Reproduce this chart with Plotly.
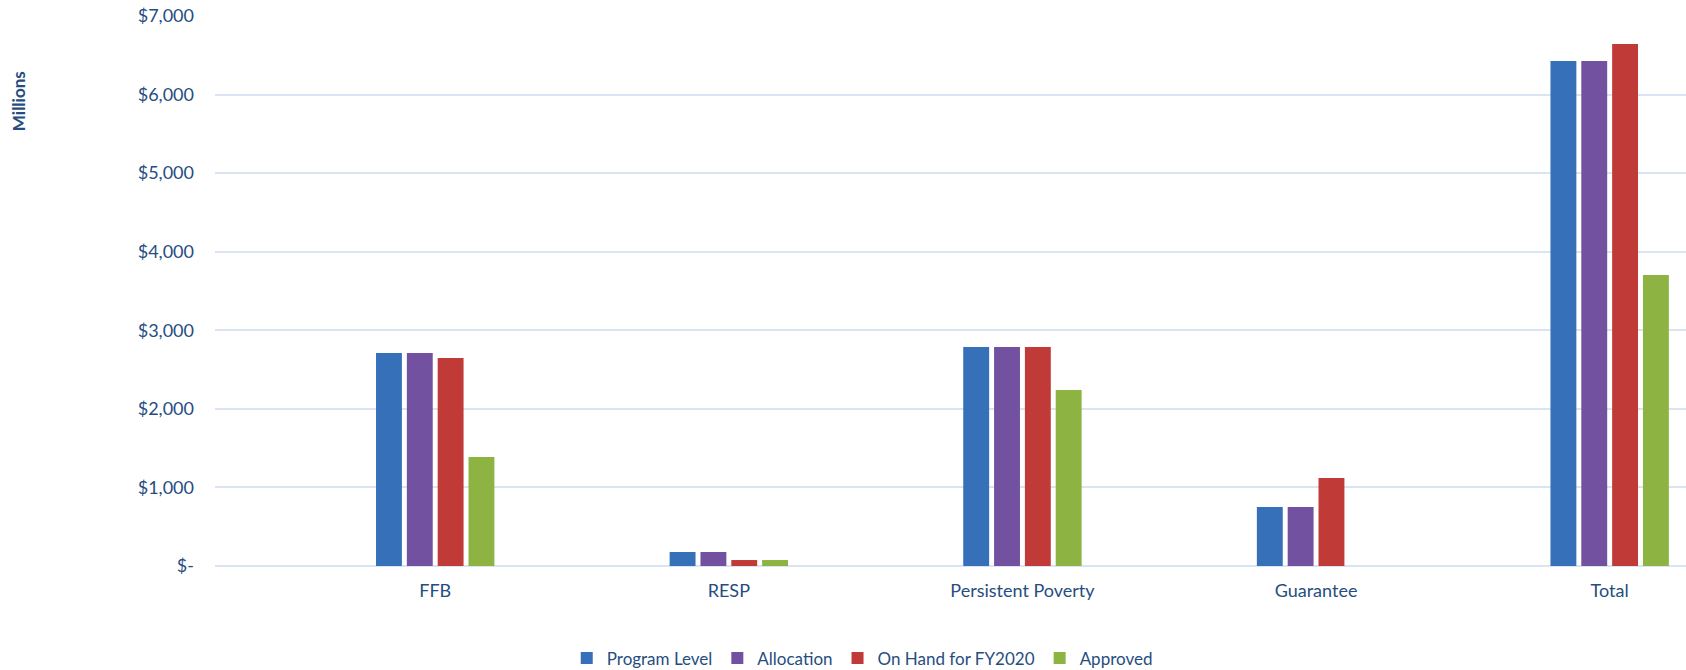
import plotly.graph_objects as go

categories = ["FFB", "RESP", "Persistent Poverty", "Guarantee", "Total"]
program_level = [2711, 178, 2787, 751, 6427]
allocation = [2711, 178, 2787, 751, 6427]
on_hand_fy2020 = [2647, 76, 2787, 1120, 6644]
approved = [1387, 76, 2240, 0, 3704]

tick_vals = [0, 1000, 2000, 3000, 4000, 5000, 6000, 7000]
tick_text = ["$-", "$1,000", "$2,000", "$3,000", "$4,000", "$5,000", "$6,000", "$7,000"]

text_color = "#264d80"
grid_color = "#dae4f2"

series = [
    ("Program Level", program_level, "#3570b9"),
    ("Allocation", allocation, "#7252a0"),
    ("On Hand for FY2020", on_hand_fy2020, "#c03a38"),
    ("Approved", approved, "#8db442"),
]

fig = go.Figure()
for name, vals, color in series:
    fig.add_trace(go.Bar(x=categories, y=vals, name=name, marker_color=color,
                         marker_line_width=0))

fig.update_layout(
    width=1686, height=670,
    paper_bgcolor="white", plot_bgcolor="white",
    font=dict(family="Lato, Open Sans, sans-serif", size=17, color=text_color),
    barmode="group", bargap=0.58, bargroupgap=0.16,
    margin=dict(l=215, r=0, t=16, b=104, pad=0, autoexpand=False),
    legend=dict(orientation="h", x=0.44, xanchor="center", y=-0.168, yanchor="middle",
                font=dict(size=17, color=text_color), itemwidth=30, tracegroupgap=0),
    showlegend=True,
)
fig.update_xaxes(range=[-0.75, 4.26], showgrid=False, showline=False, ticks="",
                 automargin=False, ticklabelstandoff=12,
                 tickfont=dict(size=18, color=text_color))
fig.update_yaxes(range=[0, 7000], tickvals=tick_vals, ticktext=tick_text,
                 showgrid=True, gridcolor=grid_color, gridwidth=1.5,
                 zeroline=True, zerolinecolor=grid_color, zerolinewidth=1.5,
                 showline=False, ticks="", ticklabelstandoff=20, ticklabeloverflow="allow",
                 automargin=False, tickfont=dict(size=18, color=text_color))

fig.add_annotation(text="<b>Millions</b>", textangle=-90, xref="paper", yref="paper",
                   x=-0.134, y=0.845, xanchor="center", yanchor="middle", showarrow=False,
                   font=dict(size=17, color=text_color))

# drop the default 8px body margin so the figure fills the window exactly
fig.write_html("out.html", config={"displayModeBar": False},
               post_script="document.body.style.margin='0';")
